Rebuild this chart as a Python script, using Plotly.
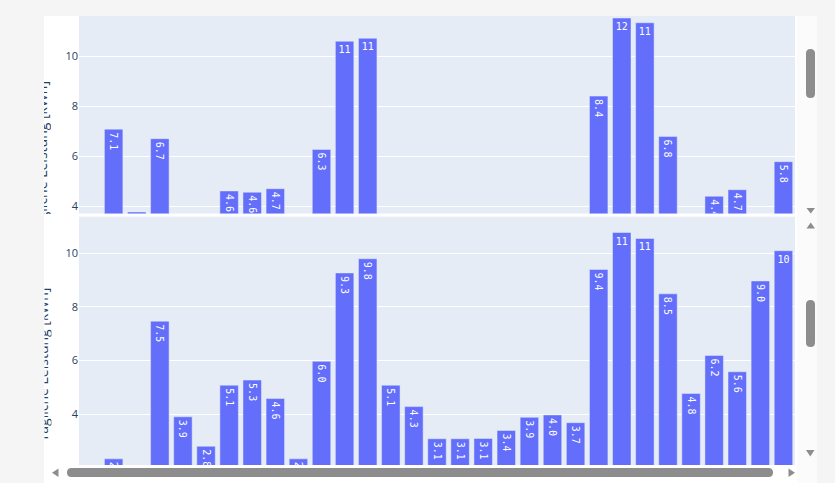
import plotly.graph_objects as go

# ---------------- data ----------------
days = list(range(1, 32))

# upper panel (values below the visible window are unknown -> None)
peak_top = [None, 7.08, 3.77, 6.7, None, None, 4.61, 4.56, 4.7, None,
            6.27, 10.59, 10.71, None, None, None, None, None, None, None,
            None, None, 8.4, 11.52, 11.33, 6.79, None, 4.4, 4.66, None,
            5.78]

# lower panel
peak_bottom = [None, 2.33, None, 7.47, 3.9, 2.8, 5.08, 5.27, 4.58, 2.33,
               5.97, 9.27, 9.8, 5.08, 4.28, 3.08, 3.08, 3.09, 3.39, 3.88,
               3.97, 3.68, 9.4, 10.78, 10.56, 8.49, 4.77, 6.19, 5.58, 8.97,
               10.1]

y_title = "Tägliche Leistung [kWh]"
y_ticks = [2, 4, 6, 8, 10]

# ---------------- geometry helpers (page pixels -> paper) ----------------
W, H = 835, 483
L, R, T, B = 79, 795, 16, 465
PW, PH = R - L, B - T


def px(x):
    return (x - L) / PW


def py(y):
    return (B - y) / PH


def P(x, y):
    return f"{px(x):.5f},{py(y):.5f}"


def rect(x0, y0, x1, y1, color):
    return dict(type="rect", xref="paper", yref="paper", x0=px(x0), x1=px(x1),
                y0=py(y1), y1=py(y0), fillcolor=color, line=dict(width=0),
                layer="below")


def vthumb(x0, x1, y0, y1, color):
    r = (x1 - x0) / 2
    xc = (x0 + x1) / 2
    path = (f"M {P(x0, y0 + r)} Q {P(x0, y0)} {P(xc, y0)} Q {P(x1, y0)} {P(x1, y0 + r)} "
            f"L {P(x1, y1 - r)} Q {P(x1, y1)} {P(xc, y1)} Q {P(x0, y1)} {P(x0, y1 - r)} Z")
    return dict(type="path", xref="paper", yref="paper", path=path,
                fillcolor=color, line=dict(width=0), layer="above")


def hthumb(x0, x1, y0, y1, color):
    r = (y1 - y0) / 2
    yc = (y0 + y1) / 2
    path = (f"M {P(x0 + r, y0)} L {P(x1 - r, y0)} Q {P(x1, y0)} {P(x1, yc)} Q {P(x1, y1)} {P(x1 - r, y1)} "
            f"L {P(x0 + r, y1)} Q {P(x0, y1)} {P(x0, yc)} Q {P(x0, y0)} {P(x0 + r, y0)} Z")
    return dict(type="path", xref="paper", yref="paper", path=path,
                fillcolor=color, line=dict(width=0), layer="above")


def tri(a, b, c, color):
    path = f"M {P(*a)} L {P(*b)} L {P(*c)} Z"
    return dict(type="path", xref="paper", yref="paper", path=path,
                fillcolor=color, line=dict(width=0), layer="above")


BAR = "#636efa"
TEXT = "#2a3f5f"
SB = "#8d8d8d"
BAR_FONT = dict(family="DejaVu Sans Mono, Liberation Mono, monospace", size=10)

fig = go.Figure()
fig.add_trace(go.Bar(x=days, y=peak_top, xaxis="x", yaxis="y",
                     marker=dict(color=BAR, line=dict(color="#E5ECF6", width=0.5)),
                     texttemplate="%{y:.2s}", textposition="auto",
                     textfont=BAR_FONT, showlegend=False))
fig.add_trace(go.Bar(x=days, y=peak_bottom, xaxis="x2", yaxis="y2",
                     marker=dict(color=BAR, line=dict(color="#E5ECF6", width=0.5)),
                     texttemplate="%{y:.2s}", textposition="auto",
                     textfont=BAR_FONT, showlegend=False))

ax_common = dict(range=[0.5, 31.5], showticklabels=False, showgrid=False,
                 zeroline=False, ticks="")
yax_common = dict(tickvals=y_ticks, showgrid=True, gridcolor="white", gridwidth=1,
                  zeroline=False, ticks="", tickfont=dict(size=11, color=TEXT))

shapes = [
    rect(0, 0, 44, 483, "#f5f5f5"),
    rect(0, 0, 835, 16, "#f5f5f5"),
    rect(817, 0, 835, 483, "#f5f5f5"),
    rect(797, 16, 817, 483, "#fbfbfb"),
    vthumb(806, 815, 49, 98, SB),
    vthumb(806, 815, 300, 347, SB),
    hthumb(67, 773, 468, 477, SB),
    tri((806.5, 208), (815, 208), (810.75, 213.5), SB),
    tri((806.5, 228.5), (815, 228.5), (810.75, 222.5), SB),
    tri((806, 450), (814.5, 450), (810.25, 456.5), SB),
    tri((58.5, 468.5), (58.5, 477), (52, 472.75), SB),
    tri((788.5, 468.5), (788.5, 477), (795, 472.75), SB),
]

annotations = [
    dict(text=y_title, xref="paper", yref="paper", x=px(47.5), y=py(147.5),
         xanchor="center", yanchor="middle", textangle=-90, showarrow=False,
         width=133, height=7, align="right", valign="bottom",
         font=dict(size=14, color=TEXT)),
    dict(text=y_title, xref="paper", yref="paper", x=px(47.5), y=py(365),
         xanchor="center", yanchor="middle", textangle=-90, showarrow=False,
         width=170, height=7, align="center", valign="bottom",
         font=dict(size=14, color=TEXT)),
]

fig.update_layout(
    template="plotly",
    width=W, height=H,
    margin=dict(l=L, r=W - R, t=T, b=H - B, autoexpand=False),
    paper_bgcolor="white", plot_bgcolor="#E5ECF6",
    font=dict(family="Open Sans, Verdana, Arial, sans-serif", color=TEXT),
    bargap=0.2,
    showlegend=False,
    xaxis=dict(domain=[0, 1], anchor="y", **ax_common),
    xaxis2=dict(domain=[0, 1], anchor="y2", **ax_common),
    yaxis=dict(domain=[py(213.5), 1], anchor="x", range=[3.71, 11.6], **yax_common),
    yaxis2=dict(domain=[0, py(216.7)], anchor="x2", range=[2.1, 11.37], **yax_common),
    shapes=shapes,
    annotations=annotations,
)

fig.write_html("out.html",
               config={"displayModeBar": False},
               post_script="document.body.style.margin='0';document.body.style.overflow='hidden';")
